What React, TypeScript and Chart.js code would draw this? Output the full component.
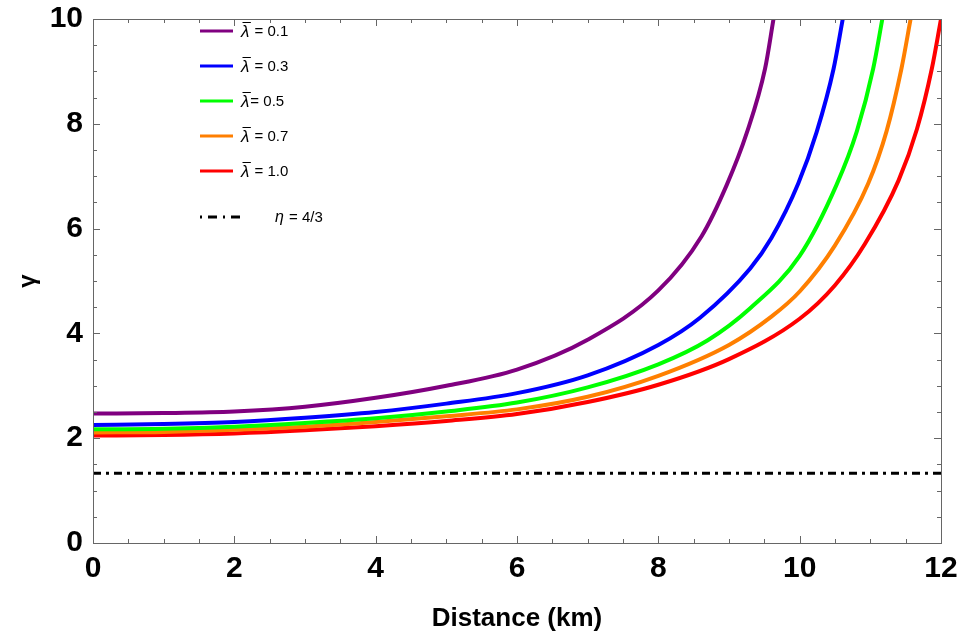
import React, { useRef, useEffect } from "react";
import { Chart, registerables } from "chart.js";

Chart.register(...registerables);

const FONT = "'Liberation Sans', Arial, sans-serif";

// legend labels (first glyph is drawn italic, U+0304 = bar over it)
const seriesLabels = ["λ\u0304 = 0.1", "λ\u0304 = 0.3", "λ\u0304= 0.5", "λ\u0304 = 0.7", "λ\u0304 = 1.0"];
const seriesColors = ["#800080", "#0000ff", "#00ff00", "#ff7f00", "#ff0000"];
const etaLabel = "η = 4/3";
const etaValue = 4 / 3;

// distance (km) / gamma pairs
const distA = [0, 1, 2, 3, 4, 5, 6, 7, 8, 8.61, 8.97, 9.25, 9.51, 9.63];
const gammaA = [2.47, 2.48, 2.51, 2.6, 2.77, 3.0, 3.31, 3.88, 4.82, 5.85, 6.84, 7.82, 9.05, 10];

const distB = [0, 1, 2, 3, 4, 5, 6, 7, 8, 8.59, 9.3, 9.6, 9.98, 10.24, 10.48, 10.61];
const gammaB = [2.25, 2.27, 2.31, 2.39, 2.5, 2.66, 2.86, 3.2, 3.78, 4.3, 5.24, 5.82, 6.86, 7.84, 9.05, 10];

const distC = [0, 1, 2, 3, 4, 5, 6, 7, 8, 8.7, 9.3, 10, 10.52, 10.81, 11.04, 11.17];
const gammaC = [2.17, 2.18, 2.22, 2.29, 2.38, 2.51, 2.68, 2.97, 3.41, 3.87, 4.48, 5.48, 6.83, 7.86, 9.05, 10];

const distD = [0, 1, 2, 3, 4, 5, 6, 7, 8, 9, 9.6, 10, 10.5, 10.97, 11.23, 11.44, 11.57];
const gammaD = [2.11, 2.12, 2.16, 2.22, 2.31, 2.42, 2.55, 2.79, 3.19, 3.78, 4.32, 4.8, 5.68, 6.86, 7.86, 9.05, 10];

const distE = [0, 1, 2, 3, 4, 5, 6, 7, 8, 9, 10, 10.5, 10.92, 11.4, 11.66, 11.87, 12];
const gammaE = [2.05, 2.06, 2.09, 2.15, 2.23, 2.33, 2.46, 2.69, 3.02, 3.51, 4.28, 4.92, 5.7, 6.92, 7.9, 9.05, 10];

const seriesDist = [distA, distB, distC, distD, distE];
const seriesGamma = [gammaA, gammaB, gammaC, gammaD, gammaE];

const xTicks = [0, 2, 4, 6, 8, 10, 12];
const yTicks = [0, 2, 4, 6, 8, 10];

// mathematica-style frame with inward ticks on all four sides
const framePlugin = {
  id: "frame",
  afterDatasetsDraw(chart: any) {
    const { ctx, chartArea: a, scales } = chart;
    const xs = scales.x;
    const ys = scales.y;
    ctx.save();
    ctx.strokeStyle = "#666";
    ctx.lineWidth = 1;
    ctx.strokeRect(Math.round(a.left) + 0.5, Math.round(a.top) + 0.5, Math.round(a.right - a.left), Math.round(a.bottom - a.top));
    ctx.beginPath();
    for (let v = xTicks[0]; v <= xTicks[xTicks.length - 1]; v += 0.5) {
      const len = xTicks.includes(v) ? 7 : 4;
      const px = Math.round(xs.getPixelForValue(v)) + 0.5;
      ctx.moveTo(px, a.bottom);
      ctx.lineTo(px, a.bottom - len);
      ctx.moveTo(px, a.top);
      ctx.lineTo(px, a.top + len);
    }
    for (let v = yTicks[0]; v <= yTicks[yTicks.length - 1]; v += 0.5) {
      const len = yTicks.includes(v) ? 7 : 4;
      const py = Math.round(ys.getPixelForValue(v)) + 0.5;
      ctx.moveTo(a.left, py);
      ctx.lineTo(a.left + len, py);
      ctx.moveTo(a.right, py);
      ctx.lineTo(a.right - len, py);
    }
    ctx.stroke();
    ctx.restore();
  },
};

const legendPlugin = {
  id: "insideLegend",
  afterDraw(chart: any) {
    const { ctx, chartArea } = chart;
    const sets = chart.data.datasets;
    const left = chartArea.left + 107;
    ctx.save();
    sets.forEach((ds: any, i: number) => {
      const isRef = i === sets.length - 1;
      const y = chartArea.top + (isRef ? 198 : 12 + i * 35);
      ctx.strokeStyle = ds.borderColor;
      ctx.lineWidth = 3;
      ctx.setLineDash(isRef ? [2, 6, 9, 6] : []);
      ctx.beginPath();
      ctx.moveTo(left, y);
      ctx.lineTo(left + (isRef ? 40 : 33), y);
      ctx.stroke();
      ctx.setLineDash([]);

      const label: string = ds.label;
      const bar = label[1] === "\u0304";
      const sym = label[0];
      const rest = label.slice(bar ? 2 : 1);
      let tx = left + (isRef ? 75 : 41);
      ctx.fillStyle = "#000";
      ctx.textBaseline = "middle";
      ctx.textAlign = "left";
      ctx.font = `italic ${isRef ? 16 : 17}px ${FONT}`;
      ctx.fillText(sym, tx, y + 1);
      const w = ctx.measureText(sym).width;
      if (bar) {
        ctx.strokeStyle = "#000";
        ctx.lineWidth = 1;
        ctx.beginPath();
        ctx.moveTo(tx + 1.5, y - 8.5);
        ctx.lineTo(tx + w + 1.5, y - 8.5);
        ctx.stroke();
      }
      tx += w + 1;
      ctx.font = `15px ${FONT}`;
      ctx.fillText(rest, tx, y + 1);
    });
    ctx.restore();
  },
};

const noPadding = (s: any) => {
  s.paddingTop = 0;
  s.paddingBottom = 0;
  s.paddingLeft = 0;
  s.paddingRight = 0;
};

export default function App() {
  const canvasRef = useRef<HTMLCanvasElement>(null);

  useEffect(() => {
    document.body.style.margin = "0";
    const canvas = canvasRef.current;
    if (!canvas) return;

    const datasets: any[] = seriesLabels.map((label, i) => ({
      label,
      data: seriesDist[i].map((x, j) => ({ x, y: seriesGamma[i][j] })),
      borderColor: seriesColors[i],
      borderWidth: 4,
      pointRadius: 0,
      fill: false,
      cubicInterpolationMode: "monotone",
    }));
    datasets.push({
      label: etaLabel,
      data: [
        { x: xTicks[0], y: etaValue },
        { x: xTicks[xTicks.length - 1], y: etaValue },
      ],
      borderColor: "#000",
      borderWidth: 3,
      borderDash: [8, 5, 3, 5],
      pointRadius: 0,
      fill: false,
    });

    const chart = new Chart(canvas, {
      type: "line",
      data: { datasets },
      options: {
        animation: false,
        responsive: false,
        events: [],
        layout: { padding: { top: 19, right: 19, left: 0, bottom: 0 } },
        plugins: {
          legend: { display: false },
          tooltip: { enabled: false },
        },
        scales: {
          x: {
            type: "linear",
            min: 0,
            max: 12,
            afterFit: (s: any) => {
              s.height = 94;
              noPadding(s);
            },
            afterBuildTicks: (s: any) => {
              s.ticks = xTicks.map((v) => ({ value: v }));
            },
            grid: { display: false, drawTicks: false },
            border: { display: false },
            ticks: {
              color: "#000",
              padding: 8,
              maxRotation: 0,
              font: { family: FONT, size: 30, weight: "bold" },
            },
            title: {
              display: true,
              text: "Distance (km)",
              color: "#000",
              padding: { top: 0, bottom: 3 },
              font: { family: FONT, size: 26, weight: "bold" },
            },
          },
          y: {
            type: "linear",
            min: 0,
            max: 10,
            afterFit: (s: any) => {
              s.width = 93;
              noPadding(s);
            },
            afterBuildTicks: (s: any) => {
              s.ticks = yTicks.map((v) => ({ value: v }));
            },
            grid: { display: false, drawTicks: false },
            border: { display: false },
            ticks: {
              color: "#000",
              padding: 10,
              font: { family: FONT, size: 30, weight: "bold" },
            },
            title: {
              display: true,
              text: "γ",
              color: "#000",
              padding: { top: 14, bottom: 0 },
              font: { family: FONT, size: 24, weight: "bold" },
            },
          },
        },
      },
      plugins: [framePlugin, legendPlugin],
    } as any);

    return () => {
      chart.destroy();
    };
  }, []);

  return <canvas ref={canvasRef} width={960} height={637} />;
}
